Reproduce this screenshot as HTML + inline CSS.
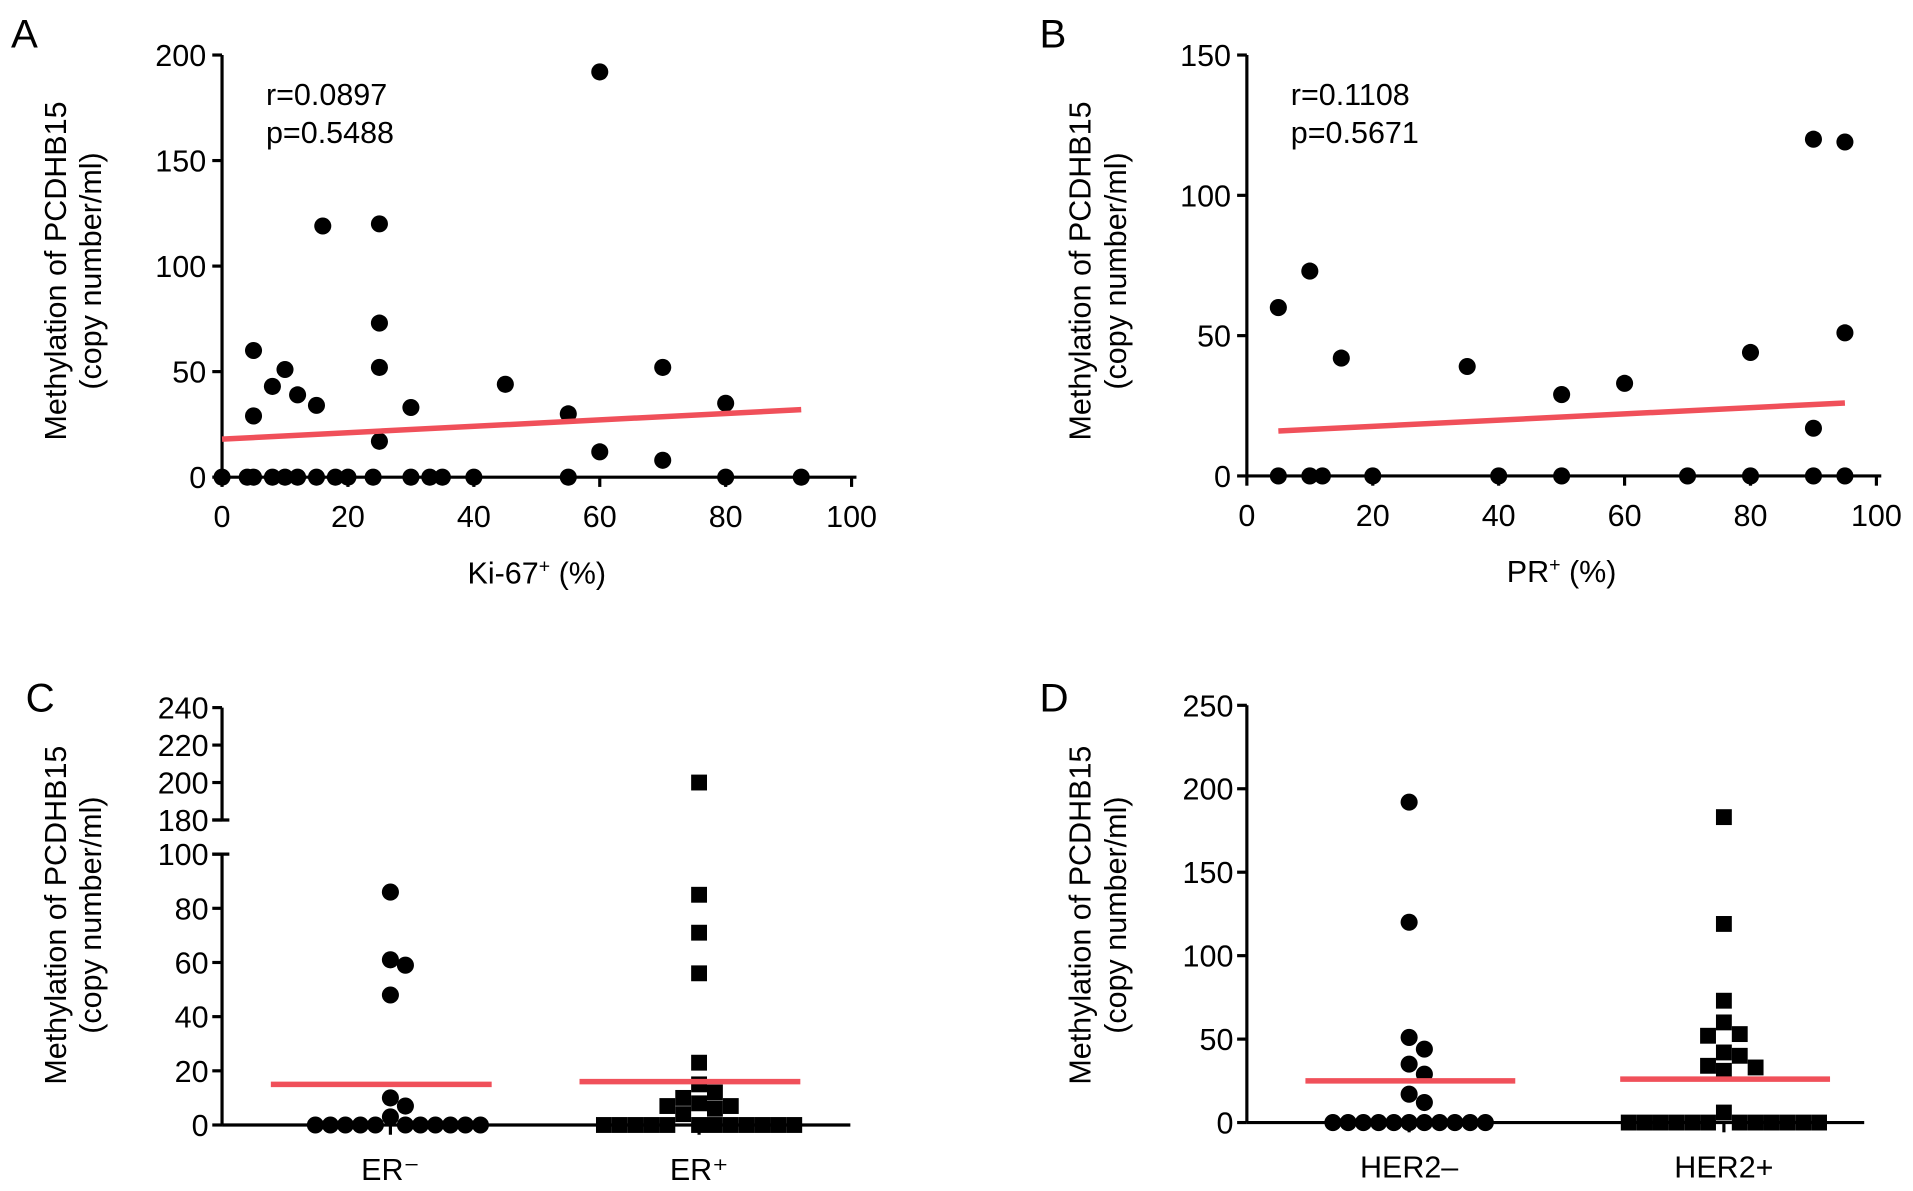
<!DOCTYPE html>
<html><head><meta charset="utf-8"><style>
html,body{margin:0;padding:0;background:#fff;}
svg{display:block;font-family:"Liberation Sans",sans-serif;}
</style></head><body>
<svg id="fig" width="1913" height="1191" viewBox="0 0 1568 976" xmlns="http://www.w3.org/2000/svg">
<g font-size="33" fill="#000">
<text x="9" y="39">A</text>
<text x="852" y="39">B</text>
<text x="21" y="583">C</text>
<text x="852" y="583">D</text>
</g>
</svg>
<script>
// Panel A data
const aZeroX=[0,4,5,8,10,12,15,18,20,24,30,33,35,40,55,80,92];
const aPtsX=[5,5,8,10,12,15,16,25,25,25,25,30,45,55,60,60,70,70,80];
const aPtsY=[60,29,43,51,39,34,119,120,73,52,17,33,44,30,192,12,52,8,35];
const aFitX=[0,92];
const aFitY=[18,32];
const aXTicks=[0,20,40,60,80,100];
const aYTicks=[0,50,100,150,200];
// Panel B data
const bZeroX=[5,10,12,20,40,50,70,80,90,95];
const bPtsX=[5,10,15,35,50,60,80,90,90,95,95];
const bPtsY=[60,73,42,39,29,33,44,120,17,119,51];
const bFitX=[5,95];
const bFitY=[16,26];
const bXTicks=[0,20,40,60,80,100];
const bYTicks=[0,50,100,150];
// Panel C data
const cCats=["ER\u207B","ER\u207A"];
const cNeg=[86,61,59,48,10,7,3,0,0,0,0,0,0,0,0,0,0,0];
const cPos=[200,85,71,56,23,15,12,10,8,7,4,7,6,0,0,0,0,0,0,0,0,0,0,0,0];
const cMeans=[15,16];
const cYLow=[0,20,40,60,80,100];
const cYHigh=[180,200,220,240];
// Panel D data
const dCats=["HER2\u2013","HER2+"];
const dNeg=[192,120,51,44,35,29,17,12,0,0,0,0,0,0,0,0,0,0,0];
const dPos=[183,119,73,60,52,53,42,40,33,31,34,6,0,0,0,0,0,0,0,0,0,0,0,0];
const dMeans=[25,26];
const dYTicks=[0,50,100,150,200,250];

const FS=25;
const NS="http://www.w3.org/2000/svg";
const svg=document.getElementById('fig');
function mk(tag,attrs,parent){const e=document.createElementNS(NS,tag);for(const k in attrs)e.setAttribute(k,attrs[k]);(parent||svg).appendChild(e);return e;}
function txt(x,y,s,size,anchor,parent){const t=mk('text',{x:x,y:y,'font-size':size,'text-anchor':anchor||'middle'},parent);t.textContent=s;return t;}
function ytitle(cx,cy){const g=mk('g',{transform:`translate(${cx},${cy}) rotate(-90)`});


txt(0,-6,'Methylation of PCDHB15',25,'middle',g);txt(0,23,'(copy number/ml)',25,'middle',g);}
function dot(x,y,g,name){const c=mk('circle',{cx:x,cy:y,r:7,fill:'#000'},g);

}
function sq(x,y,g,name){const r=mk('rect',{x:x-6.5,y:y-6.5,width:13,height:13,fill:'#000'},g);

}

function scatterPanel(o){
  const sx=v=>o.x0+(v-o.xmin)/(o.xmax-o.xmin)*(o.x1-o.x0);
  const sy=v=>o.y0-(v)/(o.ymax)*(o.y0-o.y1);
  const g=mk('g',{});
  
  
  const ax=mk('g',{stroke:'#000','stroke-width':2.6,fill:'none'},g);
  
  
  mk('line',{x1:o.x0,y1:o.y1,x2:o.x0,y2:o.y0},ax);
  mk('line',{x1:o.x0,y1:o.y0,x2:o.x1+4,y2:o.y0},ax);
  o.yt.forEach(v=>{mk('line',{x1:o.x0-8,y1:sy(v),x2:o.x0,y2:sy(v)},ax);
    const t=txt(o.x0-13,sy(v)+9,String(v),FS,'end',g);
    
    });
  o.xt.forEach(v=>{mk('line',{x1:sx(v),y1:o.y0,x2:sx(v),y2:o.y0+8},ax);
    const t=txt(sx(v),o.y0+41,String(v),FS,'middle',g);
    
    });
  const xt=txt((o.x0+o.x1)/2,o.y0+87,o.xlabel,FS,'middle',g);
  
  
  xt.innerHTML=o.xlabelHtml;
  const st=txt(o.x0+36,o.y1+41,o.r,FS,'start',g);
  
  
  const pt=txt(o.x0+36,o.y1+72,o.p,FS,'start',g);
  
  
  o.zx.forEach(v=>dot(sx(v),sy(0),g,'point'));
  o.px.forEach((v,i)=>dot(sx(v),sy(o.py[i]),g,'point'));
  const l=mk('line',{x1:sx(o.fx[0]),y1:sy(o.fy[0]),x2:sx(o.fx[1]),y2:sy(o.fy[1]),stroke:'#f0505a','stroke-width':4.5},g);
  
  
}
scatterPanel({name:'panel-a',x0:182,x1:698,y0:391,y1:45,xmin:0,xmax:100,ymax:200,xt:aXTicks,yt:aYTicks,
  xlabel:'Ki-67+ (%)',xlabelHtml:'Ki-67<tspan dy="-9" font-size="16">+</tspan><tspan dy="9"> (%)</tspan>',
  r:'r=0.0897',p:'p=0.5488',zx:aZeroX,px:aPtsX,py:aPtsY,fx:aFitX,fy:aFitY});
scatterPanel({name:'panel-b',x0:1022,x1:1538,y0:390,y1:45,xmin:0,xmax:100,ymax:150,xt:bXTicks,yt:bYTicks,
  xlabel:'PR+ (%)',xlabelHtml:'PR<tspan dy="-9" font-size="16">+</tspan><tspan dy="9"> (%)</tspan>',
  r:'r=0.1108',p:'p=0.5671',zx:bZeroX,px:bPtsX,py:bPtsY,fx:bFitX,fy:bFitY});
ytitle(60,222);ytitle(900,222);ytitle(60,750);ytitle(900,750);

function swarm(vals,cx,sy,step,g,draw,name){
  const placed=[];
  const sorted=vals.slice().sort((a,b)=>b-a);
  sorted.forEach(v=>{
    const y=sy(v);
    for(let k=0;k<40;k++){
      const off=(k%2?1:-1)*Math.ceil(k/2)*step;
      const x=cx+off;
      if(!placed.some(p=>Math.abs(p[0]-x)<step-0.5&&Math.abs(p[1]-y)<13)){placed.push([x,y]);draw(x,y,g,name);break;}
    }
  });
}
function catAxes(g,x0,x1,y0,ytop,cats,cxs){
  const ax=mk('g',{stroke:'#000','stroke-width':2.6,fill:'none'},g);
  
  
  mk('line',{x1:x0,y1:y0,x2:x1,y2:y0},ax);
  cxs.forEach((cx,i)=>{mk('line',{x1:cx,y1:y0,x2:cx,y2:y0+8},ax);
    const t=txt(cx,y0+45,'',FS,'middle',g);
    
    
    t.textContent=cats[i];});
  return ax;
}
// Panel C
(function(){
  const g=mk('g',{});
  
  
  const x0=182,y0=922;
  const syLow=v=>y0-v*2.22;
  const syHigh=v=>672-(v-180)*1.535;
  const sy=v=>v<=100?syLow(v):syHigh(v);
  const cxs=[320,573];
  const ax=catAxes(g,x0,697,y0,580,cCats,cxs);
  mk('line',{x1:x0,y1:y0,x2:x0,y2:syLow(100)},ax);
  mk('line',{x1:x0,y1:syHigh(180),x2:x0,y2:syHigh(240)},ax);
  mk('line',{x1:x0-8,y1:syLow(100),x2:x0+6,y2:syLow(100)},ax);
  mk('line',{x1:x0-8,y1:syHigh(180),x2:x0+6,y2:syHigh(180)},ax);
  cYLow.forEach(v=>{mk('line',{x1:x0-8,y1:syLow(v),x2:x0,y2:syLow(v)},ax);
    const t=txt(x0-11,syLow(v)+9,String(v),FS,'end',g);
    
    });
  cYHigh.forEach(v=>{mk('line',{x1:x0-8,y1:syHigh(v),x2:x0,y2:syHigh(v)},ax);
    const t=txt(x0-11,syHigh(v)+9,String(v),FS,'end',g);
    
    });
  swarm(cNeg,cxs[0],sy,12.3,g,dot,'er-negative-point');
  swarm(cPos,cxs[1],sy,13,g,sq,'er-positive-point');
  cMeans.forEach((m,i)=>{const l=mk('line',{x1:cxs[i]-98,y1:sy(m),x2:cxs[i]+83,y2:sy(m),stroke:'#f0505a','stroke-width':4.5},g);
    
    });
})();
// Panel D
(function(){
  const g=mk('g',{});
  
  
  const x0=1022,y0=920;
  const sy=v=>y0-v*(920-578)/250;
  const cxs=[1155,1413];
  const ax=catAxes(g,x0,1528,y0,578,dCats,cxs);
  mk('line',{x1:x0,y1:y0,x2:x0,y2:sy(250)},ax);
  dYTicks.forEach(v=>{mk('line',{x1:x0-8,y1:sy(v),x2:x0,y2:sy(v)},ax);
    const t=txt(x0-11,sy(v)+9,String(v),FS,'end',g);
    
    });
  swarm(dNeg,cxs[0],sy,12.5,g,dot,'her2-negative-point');
  swarm(dPos,cxs[1],sy,13,g,sq,'her2-positive-point');
  dMeans.forEach((m,i)=>{const l=mk('line',{x1:cxs[i]-85,y1:sy(m),x2:cxs[i]+87,y2:sy(m),stroke:'#f0505a','stroke-width':4.5},g);
    
    });
})();
</script>
</body></html>
